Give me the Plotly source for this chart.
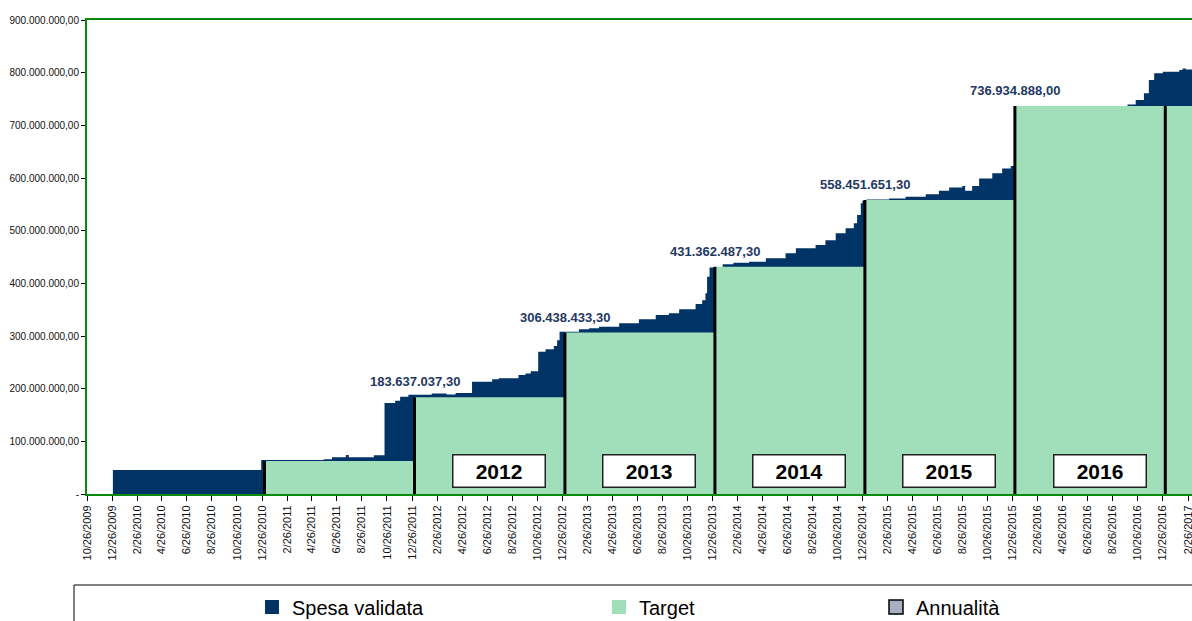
import plotly.graph_objects as go

# ---------------- data ----------------
spesa_dates = [
    "2009-10-26", "2009-12-28", "2010-12-24", "2011-05-25", "2011-06-14", "2011-07-18",
    "2011-07-25", "2011-09-24", "2011-10-20", "2011-11-15", "2011-11-27", "2011-12-17",
    "2012-02-12", "2012-03-19", "2012-04-10", "2012-05-20", "2012-07-08", "2012-07-24",
    "2012-09-10", "2012-09-27", "2012-10-10", "2012-10-28", "2012-11-15", "2012-12-05",
    "2012-12-13", "2012-12-19", "2013-02-04", "2013-03-01", "2013-03-25", "2013-05-13",
    "2013-06-30", "2013-08-10", "2013-09-11", "2013-10-06", "2013-11-15", "2013-12-01",
    "2013-12-09", "2013-12-13", "2013-12-19", "2014-01-20", "2014-02-15", "2014-03-25",
    "2014-05-05", "2014-06-22", "2014-07-17", "2014-09-03", "2014-09-27", "2014-10-22",
    "2014-11-15", "2014-12-05", "2014-12-13", "2014-12-22", "2014-12-26", "2015-01-05",
    "2015-03-01", "2015-04-10", "2015-05-29", "2015-06-30", "2015-07-25", "2015-08-26",
    "2015-09-02", "2015-09-19", "2015-10-06", "2015-11-07", "2015-12-01", "2015-12-22",
    "2016-02-15", "2016-04-20", "2016-06-20", "2016-08-20", "2016-10-01", "2016-10-21",
    "2016-11-10", "2016-11-22", "2016-12-05", "2016-12-26", "2017-02-04", "2017-02-12",
    "2017-02-20", "2017-03-31",
]
spesa_values = [
    0, 45.5e6, 64.5e6, 66e6, 70e6, 74e6,
    70e6, 73.5e6, 173e6, 177e6, 184.7e6, 188.5e6,
    191e6, 189e6, 192e6, 213e6, 218e6, 220e6,
    226e6, 229e6, 233e6, 270e6, 275e6, 281e6,
    292e6, 308e6, 312.7e6, 314.6e6, 317.6e6, 324e6,
    331.7e6, 340e6, 343e6, 350.7e6, 360.7e6, 368e6,
    381e6, 412.6e6, 430e6, 436e6, 439e6, 441e6,
    447.5e6, 457e6, 466.5e6, 472.8e6, 482e6, 495e6,
    504.5e6, 514e6, 529.7e6, 552e6, 557e6, 559e6,
    561e6, 564.5e6, 569e6, 576e6, 582e6, 585e6,
    576e6, 585e6, 599e6, 609e6, 618e6, 622.8e6,
    640e6, 665e6, 695e6, 720e6, 739.5e6, 748e6,
    760.8e6, 786e6, 798.8e6, 801.8e6, 805e6, 808e6,
    806e6, 806e6,
]

target_starts = ["2011-01-01", "2012-01-01", "2013-01-01", "2014-01-01",
                 "2015-01-01", "2016-01-01", "2017-01-01"]
target_values = [62.5e6, 183637037.30, 306438433.30, 431362487.30,
                 558451651.30, 736934888.00, 736934888.00]
target_end = "2017-03-31"

label_starts = ["2012-01-01", "2013-01-01", "2014-01-01", "2015-01-01", "2016-01-01"]
label_values = [183637037.30, 306438433.30, 431362487.30, 558451651.30, 736934888.00]
label_texts = ["183.637.037,30", "306.438.433,30", "431.362.487,30",
               "558.451.651,30", "736.934.888,00"]

year_box_texts = ["2012", "2013", "2014", "2015", "2016"]

y_tick_values = [0, 100e6, 200e6, 300e6, 400e6, 500e6, 600e6, 700e6, 800e6, 900e6]
y_tick_labels = ["-", "100.000.000,00", "200.000.000,00", "300.000.000,00",
                 "400.000.000,00", "500.000.000,00", "600.000.000,00",
                 "700.000.000,00", "800.000.000,00", "900.000.000,00"]

x_tick_dates = [
    "2009-10-26", "2009-12-26",
    "2010-02-26", "2010-04-26", "2010-06-26", "2010-08-26", "2010-10-26", "2010-12-26",
    "2011-02-26", "2011-04-26", "2011-06-26", "2011-08-26", "2011-10-26", "2011-12-26",
    "2012-02-26", "2012-04-26", "2012-06-26", "2012-08-26", "2012-10-26", "2012-12-26",
    "2013-02-26", "2013-04-26", "2013-06-26", "2013-08-26", "2013-10-26", "2013-12-26",
    "2014-02-26", "2014-04-26", "2014-06-26", "2014-08-26", "2014-10-26", "2014-12-26",
    "2015-02-26", "2015-04-26", "2015-06-26", "2015-08-26", "2015-10-26", "2015-12-26",
    "2016-02-26", "2016-04-26", "2016-06-26", "2016-08-26", "2016-10-26", "2016-12-26",
    "2017-02-26",
]

x_range = ["2009-10-26", "2017-03-07"]

legend_names = ["Spesa validata", "Target", "Annualità"]

# ---------------- styles ----------------
NAVY = "#003366"
GREEN = "#A1DFBB"
GREY = "#A9AFC2"
AXIS_GREEN = "#0A8A0A"
SANS = "Liberation Sans, Arial, sans-serif"

fig = go.Figure()

# Spesa validata (step area)
fig.add_trace(go.Scatter(
    x=spesa_dates, y=spesa_values, mode="lines", line=dict(shape="hv", width=0, color=NAVY),
    fill="tozeroy", fillcolor=NAVY, showlegend=False, hoverinfo="skip"))

# Target (step area)
fig.add_trace(go.Scatter(
    x=target_starts + [target_end], y=target_values + [target_values[-1]],
    mode="lines", line=dict(shape="hv", width=0, color=GREEN),
    fill="tozeroy", fillcolor=GREEN, showlegend=False, hoverinfo="skip"))

# Annualità separators (vertical black lines)
vx, vy = [], []
for d, v in zip(target_starts, target_values):
    vx += [d, d, None]
    vy += [0, v, None]
fig.add_trace(go.Scatter(x=vx, y=vy, mode="lines", line=dict(color="black", width=3),
                         showlegend=False, hoverinfo="skip"))

# Legend entries
legend_colors = [NAVY, GREEN, GREY]
legend_lines = [dict(width=0), dict(width=0), dict(width=1.5, color="black")]
legend_ids = ["legend", "legend2", "legend3"]
for name, col, ln, lid in zip(legend_names, legend_colors, legend_lines, legend_ids):
    fig.add_trace(go.Scatter(x=[None], y=[None], mode="markers", name=name,
                             marker=dict(symbol="square", size=14, color=col, line=ln),
                             legend=lid))

annotations = []
for d, v, t in zip(label_starts, label_values, label_texts):
    annotations.append(dict(x=d, y=v, xref="x", yref="y", text=t, showarrow=False,
                            yanchor="bottom", yshift=6,
                            font=dict(family=SANS, size=13, color="#1F3864", weight="bold")))
for t in year_box_texts:
    annotations.append(dict(x=f"{t}-07-25", y=44e6, xref="x", yref="y",
                            text=f"<b>{t}</b>", showarrow=False, yanchor="middle",
                            width=89, height=29, borderpad=1, borderwidth=1.5,
                            bordercolor="#222222", bgcolor="white",
                            font=dict(family=SANS, size=21, color="black")))

WIN_W, WIN_H = 1192, 621
plot_left, plot_right, plot_top, plot_bottom = 87, 1192, 20, 494  # window pixels
pw = plot_right - plot_left
ph = plot_bottom - plot_top

def px_x(p):
    return (p - plot_left) / pw

def px_y(p):
    return (plot_bottom - p) / ph

leg_common = dict(orientation="h", yanchor="middle", xanchor="left", y=px_y(607),
                  bgcolor="rgba(0,0,0,0)", borderwidth=0, itemwidth=30,
                  font=dict(family=SANS, size=20, color="black"))

fig.update_layout(
    width=WIN_W, height=WIN_H,
    margin=dict(l=plot_left, r=WIN_W - plot_right, t=plot_top,
                b=WIN_H - plot_bottom, autoexpand=False),
    paper_bgcolor="white", plot_bgcolor="white",
    annotations=annotations,
    legend=dict(x=px_x(252), **leg_common),
    legend2=dict(x=px_x(599), **leg_common),
    legend3=dict(x=px_x(876), **leg_common),
    shapes=[dict(type="rect", xref="paper", yref="paper",
                 x0=px_x(74), x1=px_x(1230), y0=px_y(640), y1=px_y(585),
                 line=dict(color="black", width=1), fillcolor="rgba(0,0,0,0)")],
    xaxis=dict(type="date", range=x_range, tickvals=x_tick_dates,
               tickformat="%-m/%d/%Y", tickangle=-90, ticks="outside", ticklen=5,
               tickcolor="black", tickwidth=1, automargin=False,
               ticklabeloverflow="allow",
               showgrid=False, zeroline=False, showline=True, linecolor=AXIS_GREEN,
               linewidth=2, mirror=True,
               tickfont=dict(family=SANS, size=11, color="#111111")),
    yaxis=dict(range=[0, 900e6], tickvals=y_tick_values, ticktext=y_tick_labels,
               ticks="outside", ticklen=4, tickcolor="black", showgrid=False,
               zeroline=False, showline=True, linecolor=AXIS_GREEN, linewidth=2,
               automargin=False,
               tickfont=dict(family=SANS, size=10, color="#111111")),
)

# place the figure at the window's top-left corner, without scrollbars or modebar
fig.write_html(
    "out.html",
    config={"displayModeBar": False},
    post_script="document.body.style.margin='0';document.body.style.overflow='hidden';",
)
